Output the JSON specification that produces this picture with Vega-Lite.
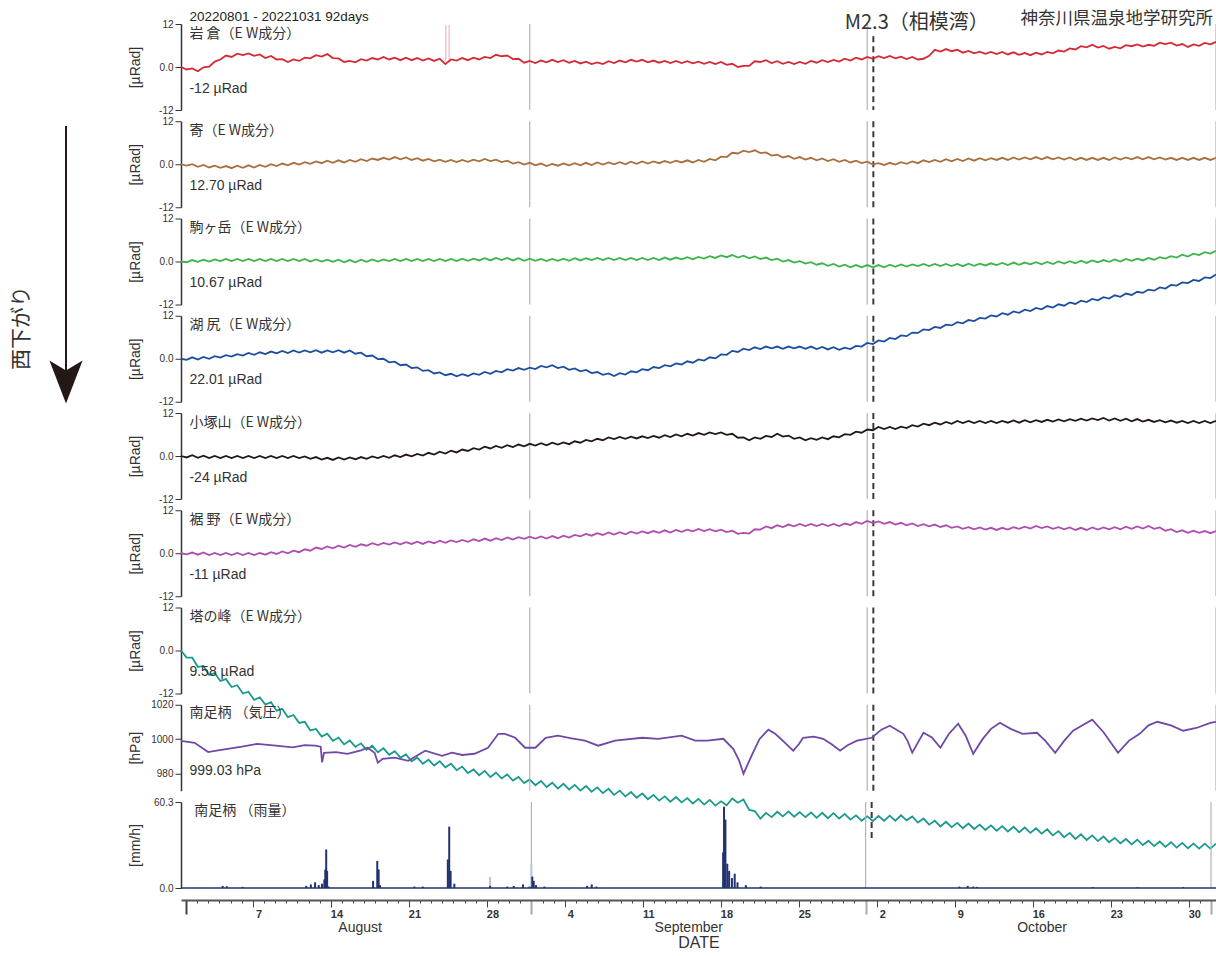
{
"$schema":"https://vega.github.io/schema/vega-lite/v6.json",
"padding":{"left":0,"top":9,"right":0,"bottom":0},
"background":"white",
"config":{"view":{"stroke":null},"font":"Liberation Sans","axis":{"grid":false}},
"datasets":{
"months":[{"t":"2022-09-01 00:00"},{"t":"2022-10-01 00:00"},{"t":"2022-11-01 00:00"}],
"eq":[{"t":"2022-10-01 13:00"}],
"spk":[{"t":"2022-08-24 13:00"},{"t":"2022-08-24 20:00"}],
"tilt":[
{"t":"2022-08-01 00:00","a":0,"b":0,"c":0,"d":0,"e":0,"f":0,"g":0},
{"t":"2022-08-01 12:00","a":-0.7,"b":-0.4,"c":-0.2,"d":-0.3,"e":-0.4,"f":-0.3,"g":-2.0},
{"t":"2022-08-02 00:00","a":-0.4,"b":0,"c":0.4,"d":0.4,"e":0.2,"f":0.2,"g":-2.0},
{"t":"2022-08-02 12:00","a":-1.2,"b":-0.7,"c":-0.1,"d":-0.2,"e":-0.5,"f":-0.4,"g":-4.6},
{"t":"2022-08-03 00:00","a":-0.1,"b":-0.2,"c":0.5,"d":0.5,"e":0.1,"f":0.2,"g":-4.3},
{"t":"2022-08-03 12:00","a":0.1,"b":-0.9,"c":0,"d":0,"e":-0.6,"f":-0.5,"g":-6.8},
{"t":"2022-08-04 00:00","a":1.5,"b":-0.4,"c":0.6,"d":0.7,"e":0,"f":0.1,"g":-6.3},
{"t":"2022-08-04 12:00","a":2.1,"b":-1.0,"c":0.1,"d":0.3,"e":-0.6,"f":-0.5,"g":-8.5},
{"t":"2022-08-05 00:00","a":3.2,"b":-0.5,"c":0.7,"d":1.0,"e":0,"f":0.1,"g":-8.0},
{"t":"2022-08-05 12:00","a":2.8,"b":-1.1,"c":0.1,"d":0.6,"e":-0.6,"f":-0.5,"g":-10.2},
{"t":"2022-08-06 00:00","a":3.7,"b":-0.4,"c":0.7,"d":1.3,"e":0,"f":0.1,"g":-9.7},
{"t":"2022-08-06 12:00","a":3.3,"b":-1.0,"c":0.1,"d":0.9,"e":-0.6,"f":-0.5,"g":-12.0},
{"t":"2022-08-07 00:00","a":3.8,"b":-0.3,"c":0.7,"d":1.6,"e":0,"f":0.1,"g":-11.5},
{"t":"2022-08-07 12:00","a":3.1,"b":-0.9,"c":0.1,"d":1.1,"e":-0.6,"f":-0.5,"g":-13.8},
{"t":"2022-08-08 00:00","a":3.5,"b":-0.2,"c":0.7,"d":1.8,"e":0,"f":0.1,"g":-13.1},
{"t":"2022-08-08 12:00","a":2.5,"b":-0.7,"c":0.1,"d":1.3,"e":-0.6,"f":-0.4,"g":-15.1},
{"t":"2022-08-09 00:00","a":3.1,"b":0,"c":0.7,"d":2.0,"e":0,"f":0.3,"g":-14.4},
{"t":"2022-08-09 12:00","a":2.1,"b":-0.5,"c":0.1,"d":1.5,"e":-0.6,"f":-0.2,"g":-16.8},
{"t":"2022-08-10 00:00","a":2.2,"b":0.2,"c":0.7,"d":2.2,"e":0,"f":0.5,"g":-16.3},
{"t":"2022-08-10 12:00","a":1.4,"b":-0.3,"c":0.1,"d":1.6,"e":-0.6,"f":0,"g":-18.6},
{"t":"2022-08-11 00:00","a":2.1,"b":0.4,"c":0.7,"d":2.3,"e":0,"f":0.7,"g":-18.0},
{"t":"2022-08-11 12:00","a":1.7,"b":-0.1,"c":0.1,"d":1.7,"e":-0.6,"f":0.3,"g":-20.2},
{"t":"2022-08-12 00:00","a":2.6,"b":0.6,"c":0.7,"d":2.3,"e":-0.1,"f":1.1,"g":-19.9},
{"t":"2022-08-12 12:00","a":2.4,"b":0.1,"c":0,"d":1.8,"e":-0.8,"f":0.7,"g":-22.3},
{"t":"2022-08-13 00:00","a":3.3,"b":0.8,"c":0.6,"d":2.4,"e":-0.3,"f":1.6,"g":-21.9},
{"t":"2022-08-13 12:00","a":2.9,"b":0.3,"c":0,"d":1.7,"e":-1.0,"f":1.2,"g":-24.0},
{"t":"2022-08-14 00:00","a":3.6,"b":1.0,"c":0.5,"d":2.3,"e":-0.5,"f":1.9,"g":-23.2},
{"t":"2022-08-14 12:00","a":2.5,"b":0.4,"c":-0.1,"d":1.8,"e":-1.1,"f":1.4,"g":-25.2},
{"t":"2022-08-15 00:00","a":2.4,"b":1.1,"c":0.5,"d":2.4,"e":-0.4,"f":2.1,"g":-24.3},
{"t":"2022-08-15 12:00","a":1.4,"b":0.5,"c":-0.2,"d":1.7,"e":-1.0,"f":1.6,"g":-26.2},
{"t":"2022-08-16 00:00","a":1.7,"b":1.2,"c":0.4,"d":2.3,"e":-0.4,"f":2.3,"g":-25.1},
{"t":"2022-08-16 12:00","a":1.3,"b":0.7,"c":-0.2,"d":1.4,"e":-0.9,"f":1.8,"g":-26.9},
{"t":"2022-08-17 00:00","a":2.2,"b":1.4,"c":0.5,"d":1.7,"e":-0.3,"f":2.5,"g":-25.9},
{"t":"2022-08-17 12:00","a":1.8,"b":0.9,"c":-0.1,"d":0.7,"e":-0.8,"f":2.1,"g":-27.7},
{"t":"2022-08-18 00:00","a":2.5,"b":1.6,"c":0.6,"d":0.9,"e":-0.1,"f":2.8,"g":-26.6},
{"t":"2022-08-18 12:00","a":2.1,"b":1.2,"c":0,"d":-0.1,"e":-0.6,"f":2.3,"g":-28.4},
{"t":"2022-08-19 00:00","a":2.8,"b":1.8,"c":0.6,"d":0,"e":0,"f":2.9,"g":-27.3},
{"t":"2022-08-19 12:00","a":2.1,"b":1.3,"c":0.1,"d":-1.0,"e":-0.5,"f":2.4,"g":-29.1},
{"t":"2022-08-20 00:00","a":2.6,"b":2.0,"c":0.7,"d":-0.8,"e":0.2,"f":3.0,"g":-28.1},
{"t":"2022-08-20 12:00","a":1.9,"b":1.4,"c":0.1,"d":-1.8,"e":-0.3,"f":2.5,"g":-29.9},
{"t":"2022-08-21 00:00","a":2.6,"b":1.9,"c":0.7,"d":-1.6,"e":0.4,"f":3.1,"g":-29.0},
{"t":"2022-08-21 12:00","a":1.9,"b":1.2,"c":0.1,"d":-2.6,"e":-0.1,"f":2.6,"g":-30.9},
{"t":"2022-08-22 00:00","a":2.5,"b":1.7,"c":0.7,"d":-2.4,"e":0.6,"f":3.2,"g":-29.9},
{"t":"2022-08-22 12:00","a":1.8,"b":1.0,"c":0.1,"d":-3.4,"e":0.1,"f":2.6,"g":-31.6},
{"t":"2022-08-23 00:00","a":2.4,"b":1.5,"c":0.7,"d":-3.2,"e":0.9,"f":3.3,"g":-30.5},
{"t":"2022-08-23 12:00","a":1.7,"b":0.8,"c":0.1,"d":-4.1,"e":0.4,"f":2.8,"g":-32.1},
{"t":"2022-08-24 00:00","a":2.3,"b":1.3,"c":0.7,"d":-3.8,"e":1.2,"f":3.5,"g":-30.9},
{"t":"2022-08-24 12:00","a":0.8,"b":0.7,"c":0.1,"d":-4.6,"e":0.7,"f":2.9,"g":-32.6},
{"t":"2022-08-25 00:00","a":2.1,"b":1.2,"c":0.7,"d":-4.2,"e":1.5,"f":3.6,"g":-31.6},
{"t":"2022-08-25 12:00","a":1.8,"b":0.6,"c":0.1,"d":-4.9,"e":1.0,"f":3.1,"g":-33.4},
{"t":"2022-08-26 00:00","a":2.5,"b":1.2,"c":0.8,"d":-4.3,"e":1.8,"f":3.7,"g":-32.4},
{"t":"2022-08-26 12:00","a":1.9,"b":0.7,"c":0.2,"d":-4.8,"e":1.4,"f":3.2,"g":-34.2},
{"t":"2022-08-27 00:00","a":2.6,"b":1.3,"c":0.8,"d":-4.1,"e":2.2,"f":3.9,"g":-33.2},
{"t":"2022-08-27 12:00","a":2.1,"b":0.8,"c":0.3,"d":-4.5,"e":1.8,"f":3.4,"g":-34.8},
{"t":"2022-08-28 00:00","a":2.8,"b":1.5,"c":0.9,"d":-3.7,"e":2.6,"f":4.1,"g":-33.6},
{"t":"2022-08-28 12:00","a":2.5,"b":0.9,"c":0.3,"d":-4.2,"e":2.1,"f":3.5,"g":-35.3},
{"t":"2022-08-29 00:00","a":3.4,"b":1.3,"c":1.0,"d":-3.4,"e":2.8,"f":4.2,"g":-34.1},
{"t":"2022-08-29 12:00","a":3.0,"b":0.6,"c":0.4,"d":-3.8,"e":2.3,"f":3.7,"g":-35.7},
{"t":"2022-08-30 00:00","a":3.2,"b":1.0,"c":1.0,"d":-2.9,"e":3.0,"f":4.4,"g":-34.6},
{"t":"2022-08-30 12:00","a":2.2,"b":0.2,"c":0.3,"d":-3.3,"e":2.5,"f":3.8,"g":-36.3},
{"t":"2022-08-31 00:00","a":2.3,"b":0.6,"c":0.9,"d":-2.6,"e":3.2,"f":4.5,"g":-35.3},
{"t":"2022-08-31 12:00","a":1.2,"b":-0.1,"c":0.2,"d":-3.1,"e":2.7,"f":4.0,"g":-37.0},
{"t":"2022-09-01 00:00","a":1.7,"b":0.4,"c":0.8,"d":-2.5,"e":3.4,"f":4.6,"g":-36.0},
{"t":"2022-09-01 12:00","a":1.1,"b":-0.3,"c":0.2,"d":-2.9,"e":2.9,"f":4.1,"g":-37.6},
{"t":"2022-09-02 00:00","a":1.8,"b":0.2,"c":0.7,"d":-2.0,"e":3.6,"f":4.7,"g":-36.4},
{"t":"2022-09-02 12:00","a":1.3,"b":-0.5,"c":0.1,"d":-2.4,"e":3.0,"f":4.1,"g":-38.1},
{"t":"2022-09-03 00:00","a":2.0,"b":0.1,"c":0.7,"d":-1.8,"e":3.7,"f":4.8,"g":-36.9},
{"t":"2022-09-03 12:00","a":1.4,"b":-0.4,"c":0.2,"d":-2.6,"e":3.2,"f":4.2,"g":-38.5},
{"t":"2022-09-04 00:00","a":1.9,"b":0.2,"c":0.8,"d":-2.2,"e":3.8,"f":4.9,"g":-37.2},
{"t":"2022-09-04 12:00","a":1.2,"b":-0.3,"c":0.2,"d":-3.1,"e":3.3,"f":4.4,"g":-38.8},
{"t":"2022-09-05 00:00","a":1.7,"b":0.3,"c":0.9,"d":-2.7,"e":4.1,"f":5.1,"g":-37.5},
{"t":"2022-09-05 12:00","a":1.0,"b":-0.3,"c":0.3,"d":-3.5,"e":3.7,"f":4.7,"g":-39.1},
{"t":"2022-09-06 00:00","a":1.5,"b":0.4,"c":0.9,"d":-3.1,"e":4.5,"f":5.4,"g":-37.8},
{"t":"2022-09-06 12:00","a":0.8,"b":-0.2,"c":0.4,"d":-4.0,"e":4.1,"f":4.9,"g":-39.4},
{"t":"2022-09-07 00:00","a":1.3,"b":0.5,"c":1.0,"d":-3.7,"e":4.8,"f":5.6,"g":-38.2},
{"t":"2022-09-07 12:00","a":0.8,"b":-0.1,"c":0.4,"d":-4.5,"e":4.4,"f":5.1,"g":-39.8},
{"t":"2022-09-08 00:00","a":1.6,"b":0.5,"c":1.0,"d":-4.1,"e":5.2,"f":5.8,"g":-38.6},
{"t":"2022-09-08 12:00","a":1.1,"b":0,"c":0.4,"d":-4.8,"e":4.7,"f":5.2,"g":-40.3},
{"t":"2022-09-09 00:00","a":1.8,"b":0.6,"c":1.0,"d":-4.0,"e":5.3,"f":5.9,"g":-39.1},
{"t":"2022-09-09 12:00","a":1.3,"b":0,"c":0.4,"d":-4.4,"e":4.8,"f":5.3,"g":-40.7},
{"t":"2022-09-10 00:00","a":2.0,"b":0.7,"c":1.0,"d":-3.5,"e":5.4,"f":6.0,"g":-39.5},
{"t":"2022-09-10 12:00","a":1.5,"b":0.1,"c":0.4,"d":-3.8,"e":4.9,"f":5.5,"g":-41.1},
{"t":"2022-09-11 00:00","a":2.0,"b":0.8,"c":1.0,"d":-2.9,"e":5.5,"f":6.1,"g":-39.9},
{"t":"2022-09-11 12:00","a":1.3,"b":0.2,"c":0.4,"d":-3.2,"e":5.0,"f":5.6,"g":-41.5},
{"t":"2022-09-12 00:00","a":1.8,"b":0.8,"c":1.0,"d":-2.3,"e":5.6,"f":6.2,"g":-40.3},
{"t":"2022-09-12 12:00","a":1.2,"b":0.3,"c":0.4,"d":-2.6,"e":5.1,"f":5.7,"g":-41.9},
{"t":"2022-09-13 00:00","a":1.7,"b":0.9,"c":1.1,"d":-1.8,"e":5.8,"f":6.4,"g":-40.7},
{"t":"2022-09-13 12:00","a":1.1,"b":0.4,"c":0.5,"d":-2.1,"e":5.3,"f":5.8,"g":-42.2},
{"t":"2022-09-14 00:00","a":1.7,"b":1.0,"c":1.1,"d":-1.3,"e":6.0,"f":6.5,"g":-40.9},
{"t":"2022-09-14 12:00","a":1.1,"b":0.5,"c":0.6,"d":-1.6,"e":5.5,"f":6.0,"g":-42.4},
{"t":"2022-09-15 00:00","a":1.6,"b":1.1,"c":1.2,"d":-0.7,"e":6.2,"f":6.6,"g":-41.2},
{"t":"2022-09-15 12:00","a":1.0,"b":0.5,"c":0.6,"d":-1.1,"e":5.7,"f":6.1,"g":-42.7},
{"t":"2022-09-16 00:00","a":1.5,"b":1.2,"c":1.3,"d":-0.2,"e":6.4,"f":6.8,"g":-41.4},
{"t":"2022-09-16 12:00","a":0.9,"b":0.7,"c":0.8,"d":-0.5,"e":5.9,"f":6.2,"g":-43.0},
{"t":"2022-09-17 00:00","a":1.4,"b":1.5,"c":1.5,"d":0.4,"e":6.6,"f":6.7,"g":-41.7},
{"t":"2022-09-17 12:00","a":0.8,"b":1.1,"c":1.0,"d":0.1,"e":6.1,"f":6.1,"g":-43.3},
{"t":"2022-09-18 00:00","a":1.4,"b":2.1,"c":1.7,"d":1.2,"e":6.6,"f":6.6,"g":-42.1},
{"t":"2022-09-18 12:00","a":0.6,"b":2.0,"c":1.2,"d":1.1,"e":5.9,"f":5.9,"g":-43.2},
{"t":"2022-09-19 00:00","a":0.9,"b":3.2,"c":1.8,"d":2.2,"e":6.2,"f":6.3,"g":-41.3},
{"t":"2022-09-19 12:00","a":0,"b":3.0,"c":1.1,"d":1.9,"e":5.1,"f":5.4,"g":-42.5},
{"t":"2022-09-20 00:00","a":0.3,"b":3.8,"c":1.6,"d":2.8,"e":5.2,"f":5.7,"g":-41.6},
{"t":"2022-09-20 12:00","a":0.3,"b":3.4,"c":0.9,"d":2.4,"e":4.4,"f":5.5,"g":-44.5},
{"t":"2022-09-21 00:00","a":1.6,"b":3.9,"c":1.4,"d":3.2,"e":5.2,"f":6.7,"g":-44.8},
{"t":"2022-09-21 12:00","a":1.4,"b":3.1,"c":0.7,"d":2.7,"e":4.8,"f":6.6,"g":-46.9},
{"t":"2022-09-22 00:00","a":1.9,"b":3.3,"c":1.1,"d":3.4,"e":5.6,"f":7.5,"g":-45.3},
{"t":"2022-09-22 12:00","a":1.1,"b":2.4,"c":0.4,"d":2.9,"e":5.3,"f":7.0,"g":-46.5},
{"t":"2022-09-23 00:00","a":1.6,"b":2.7,"c":0.8,"d":3.4,"e":6.2,"f":7.8,"g":-45.0},
{"t":"2022-09-23 12:00","a":0.9,"b":1.9,"c":0,"d":2.8,"e":5.4,"f":7.3,"g":-46.3},
{"t":"2022-09-24 00:00","a":1.4,"b":2.3,"c":0.4,"d":3.4,"e":5.7,"f":8.0,"g":-44.9},
{"t":"2022-09-24 12:00","a":0.8,"b":1.5,"c":-0.3,"d":2.9,"e":4.8,"f":7.5,"g":-46.4},
{"t":"2022-09-25 00:00","a":1.4,"b":2.0,"c":0.1,"d":3.4,"e":5.2,"f":8.2,"g":-45.1},
{"t":"2022-09-25 12:00","a":0.9,"b":1.3,"c":-0.6,"d":2.8,"e":4.4,"f":7.6,"g":-46.5},
{"t":"2022-09-26 00:00","a":1.7,"b":1.8,"c":-0.2,"d":3.4,"e":5.0,"f":8.2,"g":-45.2},
{"t":"2022-09-26 12:00","a":1.2,"b":1.1,"c":-0.9,"d":2.7,"e":4.5,"f":7.6,"g":-46.7},
{"t":"2022-09-27 00:00","a":1.9,"b":1.6,"c":-0.5,"d":3.3,"e":5.2,"f":8.2,"g":-45.3},
{"t":"2022-09-27 12:00","a":1.4,"b":0.9,"c":-1.2,"d":2.6,"e":4.7,"f":7.6,"g":-46.8},
{"t":"2022-09-28 00:00","a":2.0,"b":1.4,"c":-0.7,"d":3.2,"e":5.5,"f":8.2,"g":-45.4},
{"t":"2022-09-28 12:00","a":1.5,"b":0.7,"c":-1.4,"d":2.5,"e":5.2,"f":7.6,"g":-46.9},
{"t":"2022-09-29 00:00","a":2.3,"b":1.2,"c":-0.9,"d":3.1,"e":6.1,"f":8.3,"g":-45.6},
{"t":"2022-09-29 12:00","a":1.8,"b":0.5,"c":-1.6,"d":2.7,"e":5.9,"f":7.9,"g":-47.2},
{"t":"2022-09-30 00:00","a":2.6,"b":1.0,"c":-1.0,"d":3.6,"e":6.8,"f":8.7,"g":-46.0},
{"t":"2022-09-30 12:00","a":2.1,"b":0.3,"c":-1.6,"d":3.4,"e":6.5,"f":8.2,"g":-47.5},
{"t":"2022-10-01 00:00","a":2.8,"b":0.7,"c":-1.0,"d":4.4,"e":7.4,"f":9.0,"g":-46.3},
{"t":"2022-10-01 12:00","a":2.3,"b":-0.1,"c":-1.6,"d":4.1,"e":7.2,"f":8.4,"g":-47.6},
{"t":"2022-10-02 00:00","a":3.0,"b":0.3,"c":-1.0,"d":5.1,"e":8.1,"f":8.9,"g":-46.2},
{"t":"2022-10-02 12:00","a":2.5,"b":-0.2,"c":-1.6,"d":4.8,"e":7.5,"f":8.2,"g":-47.5},
{"t":"2022-10-03 00:00","a":3.1,"b":0.4,"c":-0.9,"d":5.8,"e":8.1,"f":8.7,"g":-46.1},
{"t":"2022-10-03 12:00","a":2.4,"b":-0.1,"c":-1.5,"d":5.5,"e":7.5,"f":8.0,"g":-47.5},
{"t":"2022-10-04 00:00","a":2.9,"b":0.6,"c":-0.8,"d":6.5,"e":8.2,"f":8.5,"g":-46.0},
{"t":"2022-10-04 12:00","a":2.2,"b":0.1,"c":-1.4,"d":6.3,"e":7.8,"f":7.8,"g":-47.4},
{"t":"2022-10-05 00:00","a":2.8,"b":0.8,"c":-0.8,"d":7.3,"e":8.6,"f":8.3,"g":-46.3},
{"t":"2022-10-05 12:00","a":2.1,"b":0.3,"c":-1.3,"d":7.2,"e":8.2,"f":7.6,"g":-48.0},
{"t":"2022-10-06 00:00","a":2.3,"b":1.1,"c":-0.7,"d":8.2,"e":9.0,"f":8.1,"g":-46.9},
{"t":"2022-10-06 12:00","a":3.1,"b":0.6,"c":-1.3,"d":8.0,"e":8.6,"f":7.5,"g":-48.6},
{"t":"2022-10-07 00:00","a":4.8,"b":1.2,"c":-0.7,"d":8.9,"e":9.3,"f":8.0,"g":-47.5},
{"t":"2022-10-07 12:00","a":4.3,"b":0.7,"c":-1.3,"d":8.6,"e":8.8,"f":7.3,"g":-49.1},
{"t":"2022-10-08 00:00","a":5.0,"b":1.4,"c":-0.7,"d":9.5,"e":9.5,"f":7.8,"g":-47.8},
{"t":"2022-10-08 12:00","a":4.4,"b":0.8,"c":-1.3,"d":9.3,"e":9.0,"f":7.1,"g":-49.3},
{"t":"2022-10-09 00:00","a":4.8,"b":1.5,"c":-0.7,"d":10.2,"e":9.8,"f":7.5,"g":-48.1},
{"t":"2022-10-09 12:00","a":4.0,"b":0.9,"c":-1.3,"d":9.9,"e":9.2,"f":6.8,"g":-49.6},
{"t":"2022-10-10 00:00","a":4.5,"b":1.6,"c":-0.6,"d":10.8,"e":9.8,"f":7.3,"g":-48.3},
{"t":"2022-10-10 12:00","a":3.8,"b":1.0,"c":-1.2,"d":10.5,"e":9.2,"f":6.7,"g":-49.8},
{"t":"2022-10-11 00:00","a":4.3,"b":1.7,"c":-0.6,"d":11.4,"e":9.8,"f":7.2,"g":-48.6},
{"t":"2022-10-11 12:00","a":3.7,"b":1.1,"c":-1.1,"d":11.2,"e":9.2,"f":6.6,"g":-50.1},
{"t":"2022-10-12 00:00","a":4.2,"b":1.7,"c":-0.5,"d":12.1,"e":9.8,"f":7.1,"g":-48.8},
{"t":"2022-10-12 12:00","a":3.6,"b":1.2,"c":-1.0,"d":11.8,"e":9.2,"f":6.5,"g":-50.3},
{"t":"2022-10-13 00:00","a":4.2,"b":1.8,"c":-0.4,"d":12.7,"e":9.8,"f":7.1,"g":-49.0},
{"t":"2022-10-13 12:00","a":3.5,"b":1.2,"c":-1.0,"d":12.3,"e":9.3,"f":6.6,"g":-50.5},
{"t":"2022-10-14 00:00","a":4.1,"b":1.9,"c":-0.3,"d":13.2,"e":9.9,"f":7.3,"g":-49.2},
{"t":"2022-10-14 12:00","a":3.4,"b":1.3,"c":-0.9,"d":12.8,"e":9.3,"f":6.8,"g":-50.7},
{"t":"2022-10-15 00:00","a":3.9,"b":1.9,"c":-0.3,"d":13.7,"e":10.0,"f":7.4,"g":-49.4},
{"t":"2022-10-15 12:00","a":3.3,"b":1.4,"c":-0.8,"d":13.3,"e":9.4,"f":6.9,"g":-50.9},
{"t":"2022-10-16 00:00","a":4.0,"b":2.0,"c":-0.2,"d":14.2,"e":10.0,"f":7.6,"g":-49.6},
{"t":"2022-10-16 12:00","a":3.5,"b":1.4,"c":-0.8,"d":13.8,"e":9.5,"f":7.0,"g":-51.1},
{"t":"2022-10-17 00:00","a":4.2,"b":2.0,"c":-0.1,"d":14.7,"e":10.1,"f":7.5,"g":-49.9},
{"t":"2022-10-17 12:00","a":3.8,"b":1.4,"c":-0.7,"d":14.3,"e":9.6,"f":6.8,"g":-51.6},
{"t":"2022-10-18 00:00","a":4.6,"b":1.9,"c":0,"d":15.2,"e":10.2,"f":7.3,"g":-50.4},
{"t":"2022-10-18 12:00","a":4.3,"b":1.3,"c":-0.6,"d":14.8,"e":9.7,"f":6.7,"g":-52.1},
{"t":"2022-10-19 00:00","a":5.2,"b":1.9,"c":0.1,"d":15.7,"e":10.3,"f":7.2,"g":-50.9},
{"t":"2022-10-19 12:00","a":4.9,"b":1.2,"c":-0.5,"d":15.3,"e":9.8,"f":6.5,"g":-52.6},
{"t":"2022-10-20 00:00","a":5.8,"b":1.8,"c":0.2,"d":16.2,"e":10.4,"f":7.1,"g":-51.3},
{"t":"2022-10-20 12:00","a":5.5,"b":1.2,"c":-0.4,"d":15.8,"e":9.9,"f":6.5,"g":-52.9},
{"t":"2022-10-21 00:00","a":6.2,"b":1.8,"c":0.3,"d":16.7,"e":10.5,"f":7.2,"g":-51.6},
{"t":"2022-10-21 12:00","a":5.4,"b":1.2,"c":-0.2,"d":16.3,"e":10.0,"f":6.6,"g":-53.2},
{"t":"2022-10-22 00:00","a":5.9,"b":1.8,"c":0.4,"d":17.2,"e":10.6,"f":7.2,"g":-51.9},
{"t":"2022-10-22 12:00","a":5.1,"b":1.2,"c":-0.1,"d":16.8,"e":9.9,"f":6.7,"g":-53.5},
{"t":"2022-10-23 00:00","a":5.6,"b":1.9,"c":0.6,"d":17.7,"e":10.5,"f":7.3,"g":-52.3},
{"t":"2022-10-23 12:00","a":5.2,"b":1.3,"c":0,"d":17.3,"e":9.8,"f":6.7,"g":-53.8},
{"t":"2022-10-24 00:00","a":6.1,"b":1.9,"c":0.7,"d":18.2,"e":10.4,"f":7.4,"g":-52.6},
{"t":"2022-10-24 12:00","a":5.8,"b":1.4,"c":0.2,"d":17.8,"e":9.7,"f":6.8,"g":-54.1},
{"t":"2022-10-25 00:00","a":6.3,"b":2.0,"c":0.8,"d":18.7,"e":10.3,"f":7.5,"g":-52.8},
{"t":"2022-10-25 12:00","a":5.7,"b":1.4,"c":0.3,"d":18.4,"e":9.6,"f":6.9,"g":-54.3},
{"t":"2022-10-26 00:00","a":6.2,"b":2.0,"c":1.0,"d":19.3,"e":10.1,"f":7.6,"g":-53.1},
{"t":"2022-10-26 12:00","a":5.9,"b":1.4,"c":0.5,"d":19.0,"e":9.5,"f":6.8,"g":-54.6},
{"t":"2022-10-27 00:00","a":6.8,"b":1.9,"c":1.2,"d":19.9,"e":10.0,"f":7.2,"g":-53.3},
{"t":"2022-10-27 12:00","a":6.4,"b":1.3,"c":0.8,"d":19.6,"e":9.4,"f":6.3,"g":-54.8},
{"t":"2022-10-28 00:00","a":6.8,"b":1.8,"c":1.5,"d":20.6,"e":9.9,"f":6.7,"g":-53.5},
{"t":"2022-10-28 12:00","a":6.0,"b":1.2,"c":1.1,"d":20.4,"e":9.3,"f":5.9,"g":-55.0},
{"t":"2022-10-29 00:00","a":6.4,"b":1.8,"c":1.9,"d":21.3,"e":9.8,"f":6.4,"g":-53.7},
{"t":"2022-10-29 12:00","a":5.6,"b":1.2,"c":1.4,"d":21.1,"e":9.2,"f":5.7,"g":-55.2},
{"t":"2022-10-30 00:00","a":6.3,"b":1.8,"c":2.2,"d":22.0,"e":9.8,"f":6.3,"g":-53.9},
{"t":"2022-10-30 12:00","a":5.9,"b":1.2,"c":1.8,"d":21.7,"e":9.2,"f":5.7,"g":-55.3},
{"t":"2022-10-31 00:00","a":6.7,"b":1.8,"c":2.6,"d":22.7,"e":9.8,"f":6.2,"g":-53.9},
{"t":"2022-10-31 12:00","a":6.3,"b":1.2,"c":2.2,"d":22.5,"e":9.2,"f":5.6,"g":-55.3},
{"t":"2022-11-01 00:00","a":7.0,"b":1.8,"c":3.0,"d":23.5,"e":9.8,"f":6.2,"g":-53.9}
],
"pres":[
{"t":"2022-08-01 00:00","p":999.0},{"t":"2022-08-02 05:00","p":997.9},{"t":"2022-08-03 10:00","p":992.5},{"t":"2022-08-04 07:00","p":993.5},{"t":"2022-08-05 07:00","p":994.5},{"t":"2022-08-06 10:00","p":995.6},{"t":"2022-08-07 19:00","p":997.3},{"t":"2022-08-09 10:00","p":996.2},{"t":"2022-08-10 22:00","p":995.2},{"t":"2022-08-12 00:00","p":996.5},{"t":"2022-08-12 22:00","p":996.2},{"t":"2022-08-13 10:00","p":995.6},{"t":"2022-08-13 13:00","p":986.5},{"t":"2022-08-13 17:00","p":992.1},{"t":"2022-08-14 19:00","p":992.5},{"t":"2022-08-15 19:00","p":991.5},{"t":"2022-08-17 00:00","p":993.5},{"t":"2022-08-17 14:00","p":995.0},{"t":"2022-08-18 05:00","p":992.1},{"t":"2022-08-18 12:00","p":986.3},{"t":"2022-08-18 22:00","p":988.6},{"t":"2022-08-20 00:00","p":989.2},{"t":"2022-08-21 05:00","p":987.4},{"t":"2022-08-22 00:00","p":990.5},{"t":"2022-08-22 17:00","p":993.3},{"t":"2022-08-24 05:00","p":990.3},{"t":"2022-08-25 02:00","p":992.1},{"t":"2022-08-26 00:00","p":990.8},{"t":"2022-08-27 02:00","p":991.5},{"t":"2022-08-28 07:00","p":995.0},{"t":"2022-08-29 05:00","p":1003.1},{"t":"2022-08-29 19:00","p":1003.1},{"t":"2022-08-30 17:00","p":1000.8},{"t":"2022-08-31 14:00","p":995.0},{"t":"2022-09-01 12:00","p":995.0},{"t":"2022-09-02 10:00","p":1000.8},{"t":"2022-09-03 12:00","p":1002.0},{"t":"2022-09-04 17:00","p":1000.5},{"t":"2022-09-05 22:00","p":999.1},{"t":"2022-09-07 02:00","p":996.2},{"t":"2022-09-08 14:00","p":999.1},{"t":"2022-09-11 00:00","p":1000.8},{"t":"2022-09-12 10:00","p":1000.2},{"t":"2022-09-14 12:00","p":1002.0},{"t":"2022-09-15 17:00","p":999.1},{"t":"2022-09-16 19:00","p":999.1},{"t":"2022-09-18 05:00","p":1000.2},{"t":"2022-09-19 02:00","p":994.4},{"t":"2022-09-19 14:00","p":988.0},{"t":"2022-09-20 00:00","p":979.9},{"t":"2022-09-20 19:00","p":991.5},{"t":"2022-09-21 10:00","p":1000.0},{"t":"2022-09-22 05:00","p":1005.5},{"t":"2022-09-22 18:00","p":1003.5},{"t":"2022-09-23 05:00","p":1000.8},{"t":"2022-09-23 20:00","p":997.0},{"t":"2022-09-24 10:00","p":993.3},{"t":"2022-09-24 22:00","p":997.0},{"t":"2022-09-25 07:00","p":1000.8},{"t":"2022-09-26 06:00","p":1001.5},{"t":"2022-09-27 02:00","p":1000.2},{"t":"2022-09-27 20:00","p":997.0},{"t":"2022-09-28 14:00","p":993.3},{"t":"2022-09-29 06:00","p":996.5},{"t":"2022-09-30 02:00","p":999.1},{"t":"2022-10-01 10:00","p":1000.8},{"t":"2022-10-02 06:00","p":1005.5},{"t":"2022-10-03 00:00","p":1007.8},{"t":"2022-10-04 05:00","p":1003.1},{"t":"2022-10-04 14:00","p":999.0},{"t":"2022-10-05 00:00","p":992.1},{"t":"2022-10-05 12:00","p":998.0},{"t":"2022-10-06 00:00","p":1003.7},{"t":"2022-10-06 18:00","p":1001.0},{"t":"2022-10-07 12:00","p":995.0},{"t":"2022-10-08 06:00","p":1003.0},{"t":"2022-10-09 02:00","p":1009.0},{"t":"2022-10-09 18:00","p":1002.0},{"t":"2022-10-10 10:00","p":991.5},{"t":"2022-10-11 06:00","p":1000.0},{"t":"2022-10-12 00:00","p":1006.0},{"t":"2022-10-12 19:00","p":1009.5},{"t":"2022-10-13 18:00","p":1006.0},{"t":"2022-10-14 19:00","p":1003.1},{"t":"2022-10-16 02:00","p":1003.7},{"t":"2022-10-16 20:00","p":999.0},{"t":"2022-10-17 17:00","p":992.1},{"t":"2022-10-18 12:00","p":999.0},{"t":"2022-10-19 07:00","p":1004.9},{"t":"2022-10-20 06:00","p":1008.5},{"t":"2022-10-21 00:00","p":1011.3},{"t":"2022-10-22 00:00","p":1004.0},{"t":"2022-10-23 07:00","p":992.1},{"t":"2022-10-24 06:00","p":999.0},{"t":"2022-10-25 05:00","p":1003.1},{"t":"2022-10-26 00:00","p":1008.0},{"t":"2022-10-26 19:00","p":1010.1},{"t":"2022-10-28 00:00","p":1008.0},{"t":"2022-10-29 02:00","p":1004.9},{"t":"2022-10-30 06:00","p":1006.5},{"t":"2022-10-31 12:00","p":1009.5},{"t":"2022-11-01 00:00","p":1010.0}
],
"rain":[
{"t":"2022-08-04 07:00","r":1.5},{"t":"2022-08-04 16:00","r":1.2},{"t":"2022-08-06 02:00","r":0.8},{"t":"2022-08-11 19:00","r":1.5},{"t":"2022-08-12 05:00","r":2.5},{"t":"2022-08-12 14:00","r":4},{"t":"2022-08-12 22:00","r":2},{"t":"2022-08-13 05:00","r":3},{"t":"2022-08-13 10:00","r":6},{"t":"2022-08-13 12:00","r":13},{"t":"2022-08-13 14:00","r":27},{"t":"2022-08-13 16:00","r":12},{"t":"2022-08-13 19:00","r":1},{"t":"2022-08-17 19:00","r":5},{"t":"2022-08-18 04:00","r":19},{"t":"2022-08-18 07:00","r":13},{"t":"2022-08-18 10:00","r":2},{"t":"2022-08-21 12:00","r":1},{"t":"2022-08-22 06:00","r":1},{"t":"2022-08-24 12:00","r":20},{"t":"2022-08-24 15:00","r":43},{"t":"2022-08-24 18:00","r":12},{"t":"2022-08-25 02:00","r":3},{"t":"2022-08-28 07:00","r":1.5},{"t":"2022-08-29 20:00","r":1},{"t":"2022-08-30 10:00","r":1.5},{"t":"2022-08-31 06:00","r":2.5},{"t":"2022-08-31 20:00","r":1},{"t":"2022-09-01 02:00","r":8},{"t":"2022-09-01 05:00","r":5},{"t":"2022-09-01 10:00","r":2},{"t":"2022-09-02 04:00","r":1},{"t":"2022-09-06 00:00","r":1.5},{"t":"2022-09-06 10:00","r":2.5},{"t":"2022-09-06 20:00","r":1},{"t":"2022-09-18 05:00","r":25},{"t":"2022-09-18 07:00","r":57},{"t":"2022-09-18 10:00","r":48},{"t":"2022-09-18 14:00","r":17},{"t":"2022-09-18 18:00","r":12},{"t":"2022-09-19 00:00","r":7},{"t":"2022-09-19 06:00","r":10},{"t":"2022-09-19 12:00","r":4},{"t":"2022-09-20 06:00","r":2},{"t":"2022-09-21 14:00","r":1},{"t":"2022-10-09 10:00","r":1},{"t":"2022-10-10 04:00","r":1.5},{"t":"2022-10-10 16:00","r":1},{"t":"2022-10-11 00:00","r":0.8},{"t":"2022-10-21 10:00","r":0.6},{"t":"2022-10-25 10:00","r":0.6},{"t":"2022-10-29 12:00","r":0.6}
],
"rain2":[{"t":"2022-08-28 07:00","r":7.7},{"t":"2022-09-01 00:00","r":17}]
},
"bounds":"flush",
"spacing":61,
"hconcat":[
{
"width":120,"height":400,
"data":{"values":[{"s":"西下がり"}]},
"layer":[
{"mark":{"type":"rule","color":"#231815","strokeWidth":2},"encoding":{"x":{"datum":0.55,"type":"quantitative","scale":{"domain":[0,1],"nice":false},"axis":null},"y":{"datum":0.745,"type":"quantitative","scale":{"domain":[0,1],"nice":false},"axis":null},"y2":{"datum":0.13}}},
{"mark":{"type":"point","shape":"M0,1.3L-1,-1.3L0,-0.7L1,-1.3Z","size":1100,"filled":true,"color":"#231815","opacity":1},"encoding":{"x":{"datum":0.55,"type":"quantitative"},"y":{"datum":0.105,"type":"quantitative"}}},
{"mark":{"type":"text","angle":270,"align":"center","baseline":"middle","font":"Noto Sans CJK JP","fontSize":21,"color":"#333"},"encoding":{"x":{"datum":0.183,"type":"quantitative"},"y":{"datum":0.24,"type":"quantitative"},"text":{"field":"s"}}}
]
},
{
"vconcat":[
{"width":1035,"height":86,"layer":[
{"data":{"name":"months"},"mark":{"type":"rule","color":"#b4b4b4","strokeWidth":1.2},"encoding":{"x":{"field":"t","type":"temporal","axis":null}}},
{"data":{"name":"eq"},"mark":{"type":"rule","color":"#3a3a3a","strokeWidth":2,"strokeDash":[6,4]},"encoding":{"x":{"field":"t","type":"temporal","axis":null},"y":{"datum":8.6,"type":"quantitative"},"y2":{"datum":-12}}},
{"data":{"name":"spk"},"mark":{"type":"rule","color":"#f2a6ae","strokeWidth":1},"encoding":{"x":{"field":"t","type":"temporal","axis":null},"y":{"datum":11.7,"type":"quantitative"},"y2":{"datum":1.4}}},
{"data":{"name":"tilt"},"mark":{"type":"line","color":"#d42a35","strokeWidth":1.8},"encoding":{"x":{"field":"t","type":"temporal","axis":null,"scale":{"domain":[{"year":2022,"month":8,"date":1},{"year":2022,"month":11,"date":1}]}},"y":{"field":"a","type":"quantitative","scale":{"domain":[-12,12],"nice":false,"zero":false},"axis":{"values":[-12,0,12],"labelExpr":"datum.value == 0 ? '0.0' : (datum.value < 0 ? '-' + abs(datum.value) : '' + datum.value)","title":"[µRad]","titleFontSize":14,"titleFontWeight":"normal","titleColor":"#333","titleX":-46,"titleY":43,"titleAngle":-90,"titleAlign":"center","titleBaseline":"middle","labelFontSize":10,"labelColor":"#333","labelPadding":2,"tickSize":6,"tickColor":"#333","domainColor":"#333","domainWidth":1.5}}}},
{"data":{"values":[{"s":"20220801 - 20221031 92days"}]},"mark":{"type":"text","align":"left","baseline":"middle","font":"Liberation Sans","fontSize":13.5,"color":"#222"},"encoding":{"x":{"datum":{"year":2022,"month":8,"date":1,"hours":18},"type":"temporal","axis":null},"y":{"datum":14.0,"type":"quantitative"},"text":{"field":"s"}}},
{"data":{"values":[{"s":"M2.3（相模湾）"}]},"mark":{"type":"text","align":"left","baseline":"middle","font":"Noto Sans CJK JP","fontSize":20,"color":"#333"},"encoding":{"x":{"datum":{"year":2022,"month":9,"date":29},"type":"temporal","axis":null},"y":{"datum":12.3,"type":"quantitative"},"text":{"field":"s"}}},
{"data":{"values":[{"s":"神奈川県温泉地学研究所"}]},"mark":{"type":"text","align":"right","baseline":"middle","dx":-3,"font":"Noto Sans CJK JP","fontSize":17.5,"color":"#333"},"encoding":{"x":{"datum":{"year":2022,"month":11,"date":1},"type":"temporal","axis":null},"y":{"datum":13.4,"type":"quantitative"},"text":{"field":"s"}}},
{"data":{"values":[{"s":"岩 倉（E W成分）"}]},"mark":{"type":"text","align":"left","baseline":"middle","font":"Noto Sans CJK JP","fontSize":14,"color":"#333"},"encoding":{"x":{"datum":{"year":2022,"month":8,"date":1,"hours":18},"type":"temporal","axis":null},"y":{"datum":9.1,"type":"quantitative"},"text":{"field":"s"}}},
{"data":{"values":[{"s":"-12 µRad"}]},"mark":{"type":"text","align":"left","baseline":"middle","font":"Liberation Sans","fontSize":14,"color":"#333"},"encoding":{"x":{"datum":{"year":2022,"month":8,"date":1,"hours":18},"type":"temporal","axis":null},"y":{"datum":-6,"type":"quantitative"},"text":{"field":"s"}}}
]},
{"width":1035,"height":86,"layer":[
{"data":{"name":"months"},"mark":{"type":"rule","color":"#b4b4b4","strokeWidth":1.2},"encoding":{"x":{"field":"t","type":"temporal","axis":null}}},
{"data":{"name":"eq"},"mark":{"type":"rule","color":"#3a3a3a","strokeWidth":2,"strokeDash":[6,4]},"encoding":{"x":{"field":"t","type":"temporal","axis":null}}},
{"data":{"name":"tilt"},"mark":{"type":"line","color":"#a8703c","strokeWidth":1.8},"encoding":{"x":{"field":"t","type":"temporal","axis":null,"scale":{"domain":[{"year":2022,"month":8,"date":1},{"year":2022,"month":11,"date":1}]}},"y":{"field":"b","type":"quantitative","scale":{"domain":[-12,12],"nice":false,"zero":false},"axis":{"values":[-12,0,12],"labelExpr":"datum.value == 0 ? '0.0' : (datum.value < 0 ? '-' + abs(datum.value) : '' + datum.value)","title":"[µRad]","titleFontSize":14,"titleFontWeight":"normal","titleColor":"#333","titleX":-46,"titleY":43,"titleAngle":-90,"titleAlign":"center","titleBaseline":"middle","labelFontSize":10,"labelColor":"#333","labelPadding":2,"tickSize":6,"tickColor":"#333","domainColor":"#333","domainWidth":1.5}}}},
{"data":{"values":[{"s":"　寄（E W成分）"}]},"mark":{"type":"text","align":"left","baseline":"middle","font":"Noto Sans CJK JP","fontSize":14,"color":"#333"},"encoding":{"x":{"datum":{"year":2022,"month":8,"date":1,"hours":18},"type":"temporal","axis":null},"y":{"datum":9.3,"type":"quantitative"},"text":{"field":"s"}}},
{"data":{"values":[{"s":"12.70 µRad"}]},"mark":{"type":"text","align":"left","baseline":"middle","font":"Liberation Sans","fontSize":14,"color":"#333"},"encoding":{"x":{"datum":{"year":2022,"month":8,"date":1,"hours":18},"type":"temporal","axis":null},"y":{"datum":-6,"type":"quantitative"},"text":{"field":"s"}}}
]},
{"width":1035,"height":86,"layer":[
{"data":{"name":"months"},"mark":{"type":"rule","color":"#b4b4b4","strokeWidth":1.2},"encoding":{"x":{"field":"t","type":"temporal","axis":null}}},
{"data":{"name":"eq"},"mark":{"type":"rule","color":"#3a3a3a","strokeWidth":2,"strokeDash":[6,4]},"encoding":{"x":{"field":"t","type":"temporal","axis":null}}},
{"data":{"name":"tilt"},"mark":{"type":"line","color":"#3cb44a","strokeWidth":1.8},"encoding":{"x":{"field":"t","type":"temporal","axis":null,"scale":{"domain":[{"year":2022,"month":8,"date":1},{"year":2022,"month":11,"date":1}]}},"y":{"field":"c","type":"quantitative","scale":{"domain":[-12,12],"nice":false,"zero":false},"axis":{"values":[-12,0,12],"labelExpr":"datum.value == 0 ? '0.0' : (datum.value < 0 ? '-' + abs(datum.value) : '' + datum.value)","title":"[µRad]","titleFontSize":14,"titleFontWeight":"normal","titleColor":"#333","titleX":-46,"titleY":43,"titleAngle":-90,"titleAlign":"center","titleBaseline":"middle","labelFontSize":10,"labelColor":"#333","labelPadding":2,"tickSize":6,"tickColor":"#333","domainColor":"#333","domainWidth":1.5}}}},
{"data":{"values":[{"s":"駒ヶ岳（E W成分）"}]},"mark":{"type":"text","align":"left","baseline":"middle","font":"Noto Sans CJK JP","fontSize":14,"color":"#333"},"encoding":{"x":{"datum":{"year":2022,"month":8,"date":1,"hours":18},"type":"temporal","axis":null},"y":{"datum":9.3,"type":"quantitative"},"text":{"field":"s"}}},
{"data":{"values":[{"s":"10.67 µRad"}]},"mark":{"type":"text","align":"left","baseline":"middle","font":"Liberation Sans","fontSize":14,"color":"#333"},"encoding":{"x":{"datum":{"year":2022,"month":8,"date":1,"hours":18},"type":"temporal","axis":null},"y":{"datum":-6,"type":"quantitative"},"text":{"field":"s"}}}
]},
{"width":1035,"height":86,"layer":[
{"data":{"name":"months"},"mark":{"type":"rule","color":"#b4b4b4","strokeWidth":1.2},"encoding":{"x":{"field":"t","type":"temporal","axis":null}}},
{"data":{"name":"eq"},"mark":{"type":"rule","color":"#3a3a3a","strokeWidth":2,"strokeDash":[6,4]},"encoding":{"x":{"field":"t","type":"temporal","axis":null}}},
{"data":{"name":"tilt"},"mark":{"type":"line","color":"#1c4ea0","strokeWidth":1.8},"encoding":{"x":{"field":"t","type":"temporal","axis":null,"scale":{"domain":[{"year":2022,"month":8,"date":1},{"year":2022,"month":11,"date":1}]}},"y":{"field":"d","type":"quantitative","scale":{"domain":[-12,12],"nice":false,"zero":false},"axis":{"values":[-12,0,12],"labelExpr":"datum.value == 0 ? '0.0' : (datum.value < 0 ? '-' + abs(datum.value) : '' + datum.value)","title":"[µRad]","titleFontSize":14,"titleFontWeight":"normal","titleColor":"#333","titleX":-46,"titleY":43,"titleAngle":-90,"titleAlign":"center","titleBaseline":"middle","labelFontSize":10,"labelColor":"#333","labelPadding":2,"tickSize":6,"tickColor":"#333","domainColor":"#333","domainWidth":1.5}}}},
{"data":{"values":[{"s":"湖 尻（E W成分）"}]},"mark":{"type":"text","align":"left","baseline":"middle","font":"Noto Sans CJK JP","fontSize":14,"color":"#333"},"encoding":{"x":{"datum":{"year":2022,"month":8,"date":1,"hours":18},"type":"temporal","axis":null},"y":{"datum":9.3,"type":"quantitative"},"text":{"field":"s"}}},
{"data":{"values":[{"s":"22.01 µRad"}]},"mark":{"type":"text","align":"left","baseline":"middle","font":"Liberation Sans","fontSize":14,"color":"#333"},"encoding":{"x":{"datum":{"year":2022,"month":8,"date":1,"hours":18},"type":"temporal","axis":null},"y":{"datum":-6,"type":"quantitative"},"text":{"field":"s"}}}
]},
{"width":1035,"height":86,"layer":[
{"data":{"name":"months"},"mark":{"type":"rule","color":"#b4b4b4","strokeWidth":1.2},"encoding":{"x":{"field":"t","type":"temporal","axis":null}}},
{"data":{"name":"eq"},"mark":{"type":"rule","color":"#3a3a3a","strokeWidth":2,"strokeDash":[6,4]},"encoding":{"x":{"field":"t","type":"temporal","axis":null}}},
{"data":{"name":"tilt"},"mark":{"type":"line","color":"#231815","strokeWidth":1.8},"encoding":{"x":{"field":"t","type":"temporal","axis":null,"scale":{"domain":[{"year":2022,"month":8,"date":1},{"year":2022,"month":11,"date":1}]}},"y":{"field":"e","type":"quantitative","scale":{"domain":[-12,12],"nice":false,"zero":false},"axis":{"values":[-12,0,12],"labelExpr":"datum.value == 0 ? '0.0' : (datum.value < 0 ? '-' + abs(datum.value) : '' + datum.value)","title":"[µRad]","titleFontSize":14,"titleFontWeight":"normal","titleColor":"#333","titleX":-46,"titleY":43,"titleAngle":-90,"titleAlign":"center","titleBaseline":"middle","labelFontSize":10,"labelColor":"#333","labelPadding":2,"tickSize":6,"tickColor":"#333","domainColor":"#333","domainWidth":1.5}}}},
{"data":{"values":[{"s":"小塚山（E W成分）"}]},"mark":{"type":"text","align":"left","baseline":"middle","font":"Noto Sans CJK JP","fontSize":14,"color":"#333"},"encoding":{"x":{"datum":{"year":2022,"month":8,"date":1,"hours":18},"type":"temporal","axis":null},"y":{"datum":9.3,"type":"quantitative"},"text":{"field":"s"}}},
{"data":{"values":[{"s":"-24 µRad"}]},"mark":{"type":"text","align":"left","baseline":"middle","font":"Liberation Sans","fontSize":14,"color":"#333"},"encoding":{"x":{"datum":{"year":2022,"month":8,"date":1,"hours":18},"type":"temporal","axis":null},"y":{"datum":-6,"type":"quantitative"},"text":{"field":"s"}}}
]},
{"width":1035,"height":86,"layer":[
{"data":{"name":"months"},"mark":{"type":"rule","color":"#b4b4b4","strokeWidth":1.2},"encoding":{"x":{"field":"t","type":"temporal","axis":null}}},
{"data":{"name":"eq"},"mark":{"type":"rule","color":"#3a3a3a","strokeWidth":2,"strokeDash":[6,4]},"encoding":{"x":{"field":"t","type":"temporal","axis":null}}},
{"data":{"name":"tilt"},"mark":{"type":"line","color":"#b04cb0","strokeWidth":1.8},"encoding":{"x":{"field":"t","type":"temporal","axis":null,"scale":{"domain":[{"year":2022,"month":8,"date":1},{"year":2022,"month":11,"date":1}]}},"y":{"field":"f","type":"quantitative","scale":{"domain":[-12,12],"nice":false,"zero":false},"axis":{"values":[-12,0,12],"labelExpr":"datum.value == 0 ? '0.0' : (datum.value < 0 ? '-' + abs(datum.value) : '' + datum.value)","title":"[µRad]","titleFontSize":14,"titleFontWeight":"normal","titleColor":"#333","titleX":-46,"titleY":43,"titleAngle":-90,"titleAlign":"center","titleBaseline":"middle","labelFontSize":10,"labelColor":"#333","labelPadding":2,"tickSize":6,"tickColor":"#333","domainColor":"#333","domainWidth":1.5}}}},
{"data":{"values":[{"s":"裾 野（E W成分）"}]},"mark":{"type":"text","align":"left","baseline":"middle","font":"Noto Sans CJK JP","fontSize":14,"color":"#333"},"encoding":{"x":{"datum":{"year":2022,"month":8,"date":1,"hours":18},"type":"temporal","axis":null},"y":{"datum":9.3,"type":"quantitative"},"text":{"field":"s"}}},
{"data":{"values":[{"s":"-11 µRad"}]},"mark":{"type":"text","align":"left","baseline":"middle","font":"Liberation Sans","fontSize":14,"color":"#333"},"encoding":{"x":{"datum":{"year":2022,"month":8,"date":1,"hours":18},"type":"temporal","axis":null},"y":{"datum":-6,"type":"quantitative"},"text":{"field":"s"}}}
]},
{"width":1035,"height":86,"layer":[
{"data":{"name":"months"},"mark":{"type":"rule","color":"#b4b4b4","strokeWidth":1.2},"encoding":{"x":{"field":"t","type":"temporal","axis":null}}},
{"data":{"name":"eq"},"mark":{"type":"rule","color":"#3a3a3a","strokeWidth":2,"strokeDash":[6,4]},"encoding":{"x":{"field":"t","type":"temporal","axis":null}}},
{"data":{"name":"tilt"},"mark":{"type":"line","color":"#1a9a8c","strokeWidth":1.8},"encoding":{"x":{"field":"t","type":"temporal","axis":null,"scale":{"domain":[{"year":2022,"month":8,"date":1},{"year":2022,"month":11,"date":1}]}},"y":{"field":"g","type":"quantitative","scale":{"domain":[-12,12],"nice":false,"zero":false},"axis":{"values":[-12,0,12],"labelExpr":"datum.value == 0 ? '0.0' : (datum.value < 0 ? '-' + abs(datum.value) : '' + datum.value)","title":"[µRad]","titleFontSize":14,"titleFontWeight":"normal","titleColor":"#333","titleX":-46,"titleY":43,"titleAngle":-90,"titleAlign":"center","titleBaseline":"middle","labelFontSize":10,"labelColor":"#333","labelPadding":2,"tickSize":6,"tickColor":"#333","domainColor":"#333","domainWidth":1.5}}}},
{"data":{"values":[{"s":"塔の峰（E W成分）"}]},"mark":{"type":"text","align":"left","baseline":"middle","font":"Noto Sans CJK JP","fontSize":14,"color":"#333"},"encoding":{"x":{"datum":{"year":2022,"month":8,"date":1,"hours":18},"type":"temporal","axis":null},"y":{"datum":9.3,"type":"quantitative"},"text":{"field":"s"}}},
{"data":{"values":[{"s":"9.58 µRad"}]},"mark":{"type":"text","align":"left","baseline":"middle","font":"Liberation Sans","fontSize":14,"color":"#333"},"encoding":{"x":{"datum":{"year":2022,"month":8,"date":1,"hours":18},"type":"temporal","axis":null},"y":{"datum":-6,"type":"quantitative"},"text":{"field":"s"}}}
]},
{"width":1035,"height":86,"layer":[
{"data":{"name":"months"},"mark":{"type":"rule","color":"#b4b4b4","strokeWidth":1.2},"encoding":{"x":{"field":"t","type":"temporal","axis":null}}},
{"data":{"name":"eq"},"mark":{"type":"rule","color":"#3a3a3a","strokeWidth":2,"strokeDash":[6,4]},"encoding":{"x":{"field":"t","type":"temporal","axis":null}}},
{"data":{"name":"pres"},"mark":{"type":"line","color":"#7048a8","strokeWidth":1.8},"encoding":{"x":{"field":"t","type":"temporal","axis":null,"scale":{"domain":[{"year":2022,"month":8,"date":1},{"year":2022,"month":11,"date":1}]}},"y":{"field":"p","type":"quantitative","scale":{"domain":[970,1020],"nice":false,"zero":false},"axis":{"values":[980,1000,1020],"format":"d","title":"[hPa]","titleFontSize":14,"titleFontWeight":"normal","titleColor":"#333","titleX":-46,"titleY":43,"titleAngle":-90,"titleAlign":"center","titleBaseline":"middle","labelFontSize":10,"labelColor":"#333","labelPadding":2,"tickSize":6,"tickColor":"#333","domainColor":"#333","domainWidth":1.5}}}},
{"data":{"values":[{"s":"南足柄 （気圧）"}]},"mark":{"type":"text","align":"left","baseline":"middle","font":"Noto Sans CJK JP","fontSize":14,"color":"#333"},"encoding":{"x":{"datum":{"year":2022,"month":8,"date":1,"hours":18},"type":"temporal","axis":null},"y":{"datum":1015.3,"type":"quantitative"},"text":{"field":"s"}}},
{"data":{"values":[{"s":"999.03 hPa"}]},"mark":{"type":"text","align":"left","baseline":"middle","font":"Liberation Sans","fontSize":14,"color":"#333"},"encoding":{"x":{"datum":{"year":2022,"month":8,"date":1,"hours":18},"type":"temporal","axis":null},"y":{"datum":981.6,"type":"quantitative"},"text":{"field":"s"}}}
]},
{"width":1035,"height":86,
"resolve":{"axis":{"x":"independent"}},
"layer":[
{"data":{"name":"months"},"mark":{"type":"rule","color":"#b4b4b4","strokeWidth":1.2},"encoding":{"x":{"field":"t","type":"temporal","scale":{"domain":[{"year":2022,"month":8,"date":1},{"year":2022,"month":11,"date":1}]},"axis":{"orient":"bottom","values":[{"year":2022,"month":8,"date":16,"hours":14},{"year":2022,"month":9,"date":15,"hours":2},{"year":2022,"month":10,"date":16,"hours":19}],"format":"%B","labelFontSize":14,"labelColor":"#333","labelPadding":20,"ticks":false,"tickSize":0,"domain":false,"offset":12,"labelFlush":false,"labelOverlap":false,"title":"DATE","titleFontSize":16,"titleFontWeight":"normal","titleColor":"#333","titlePadding":0}}}},
{"data":{"name":"eq"},"mark":{"type":"rule","color":"#3a3a3a","strokeWidth":2,"strokeDash":[6,4]},"encoding":{"x":{"field":"t","type":"temporal","axis":null},"y":{"datum":60.3,"type":"quantitative"},"y2":{"datum":34}}},
{"data":{"name":"rain2"},"mark":{"type":"bar","color":"#b9c3dc","size":2},"encoding":{"x":{"field":"t","type":"temporal","axis":null},"y":{"field":"r","type":"quantitative","title":"[mm/h]"}}},
{"data":{"name":"rain"},"mark":{"type":"bar","color":"#22336e","size":2},"encoding":{"x":{"field":"t","type":"temporal","axis":{"orient":"bottom","tickCount":{"interval":"day","step":1},"labelExpr":"day(datum.value) == 0 ? timeFormat(datum.value, '%-d') : ''","labelOffset":5.6,"labelFlush":false,"labelOverlap":false,"labelFontSize":11,"labelFontWeight":"bold","labelColor":"#333","labelPadding":1,"tickSize":{"condition":[{"test":"date(datum.value) == 1","value":14},{"test":"day(datum.value) == 0","value":7}],"value":3},"tickColor":{"condition":{"test":"date(datum.value) == 1 && month(datum.value) > 7","value":"#aaaaaa"},"value":"#444"},"tickWidth":{"condition":{"test":"date(datum.value) == 1","value":2},"value":1},"offset":12,"domainColor":"#555","domainWidth":2,"title":null}},"y":{"field":"r","type":"quantitative","title":"[mm/h]","scale":{"domain":[0,60.3],"nice":false,"zero":false},"axis":{"values":[0,60.3],"labelExpr":"format(datum.value, '.1f')","title":"[mm/h]","titleFontSize":14,"titleFontWeight":"normal","titleColor":"#333","titleX":-46,"titleY":43,"titleAngle":-90,"titleAlign":"center","titleBaseline":"middle","labelFontSize":10,"labelColor":"#333","labelPadding":2,"tickSize":6,"tickColor":"#333","domainColor":"#333","domainWidth":1.5}}}},
{"data":{"values":[{}]},"mark":{"type":"rule","color":"#22336e","strokeWidth":1.5},"encoding":{"y":{"datum":0,"type":"quantitative"}}},
{"data":{"values":[{"s":"南足柄 （雨量）"}]},"mark":{"type":"text","align":"left","baseline":"middle","font":"Noto Sans CJK JP","fontSize":14,"color":"#333"},"encoding":{"x":{"datum":{"year":2022,"month":8,"date":1,"hours":18},"type":"temporal","axis":null},"y":{"datum":54,"type":"quantitative"},"text":{"field":"s"}}}
]}
],
"spacing":11.25,
"bounds":"flush"
}
]
}
